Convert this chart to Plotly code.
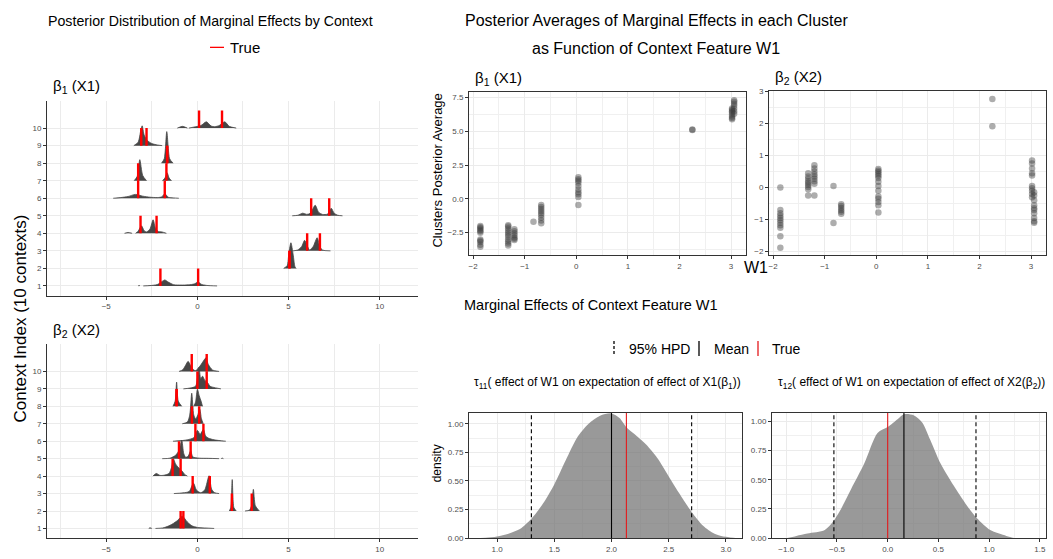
import plotly.graph_objects as go

W, H = 1053, 559
FONT = "Liberation Sans, Arial, Helvetica, sans-serif"

# ---------------- data ----------------
CONTEXTS = list(range(1, 11))

# ridge outlines per context: list of segments, each a list of (x, height) knots
B1_RIDGES = [
    [[(-3.25, 0), (-3.2, 0.03), (-3.15, 0)],
     [(-2.97, 0), (-2.6, 0.02), (-2.2, 0.08), (-1.95, 0.25), (-1.79, 0.34), (-1.6, 0.22), (-1.3, 0.07),
      (-0.9, 0.05), (-0.5, 0.06), (-0.15, 0.12), (0.04, 0.24), (0.2, 0.1), (0.5, 0.03), (1.08, 0)]],
    [[(4.73, 0), (4.92, 0.15), (5.02, 0.9), (5.13, 1.46), (5.25, 0.8), (5.35, 0.1), (5.42, 0)]],
    [[(5.24, 0), (5.5, 0.05), (5.72, 0.25), (5.88, 0.6), (6.02, 0.3), (6.15, 0.05), (6.35, 0.25),
      (6.57, 0.75), (6.7, 0.3), (6.85, 0.05), (7.3, 0)]],
    [[(-4.0, 0), (-3.8, 0.05), (-3.58, 0)],
     [(-3.39, 0), (-3.25, 0.12), (-3.07, 0.43), (-2.92, 0.15), (-2.79, 0.08), (-2.6, 0.25), (-2.43, 0.77),
      (-2.3, 0.3), (-2.15, 0.1), (-1.95, 0.08), (-1.7, 0)]],
    [[(5.2, 0), (5.5, 0.03), (5.78, 0.15), (6.0, 0.08), (6.2, 0.15), (6.46, 0.6), (6.65, 0.2), (6.85, 0.08),
      (7.15, 0.1), (7.34, 0.43), (7.5, 0.15), (7.7, 0.03), (7.96, 0)]],
    [[(-4.62, 0), (-4.2, 0.04), (-3.8, 0.1), (-3.4, 0.22), (-3.0, 0.12), (-2.6, 0.06), (-2.2, 0.04),
      (-1.95, 0.08), (-1.79, 0.26), (-1.6, 0.06), (-1.3, 0.02), (-1.02, 0)]],
    [[(-3.47, 0), (-3.3, 0.25), (-3.16, 1.2), (-3.0, 0.3), (-2.79, 0)],
     [(-1.92, 0), (-1.78, 0.15), (-1.66, 0.45), (-1.55, 0.15), (-1.42, 0)]],
    [[(-1.97, 0), (-1.82, 0.25), (-1.68, 1.8), (-1.52, 0.25), (-1.33, 0)]],
    [[(-3.49, 0), (-3.25, 0.2), (-3.1, 0.9), (-3.03, 1.13), (-2.92, 0.6), (-2.75, 0.3), (-2.5, 0.12),
      (-2.2, 0.04), (-1.93, 0)]],
    [[(-1.1, 0), (-0.82, 0.1), (-0.55, 0)],
     [(-0.47, 0), (-0.1, 0.08), (0.2, 0.15), (0.49, 0.36), (0.75, 0.12), (0.95, 0.08), (1.2, 0.15),
      (1.5, 0.36), (1.75, 0.1), (2.13, 0)]],
]
B1_TRUE = [[-2.03, 0.04], [5.05, 5.05], [6.02, 6.72], [-3.12, -2.24], [6.24, 7.23],
           [-3.25, -1.79], [-3.25, -1.7], [-1.66, -1.66], [-3.08, -2.79], [0.09, 1.35]]

B2_RIDGES = [
    [[(-2.67, 0), (-2.6, 0.04), (-2.5, 0)],
     [(-2.3, 0), (-1.9, 0.03), (-1.56, 0.15), (-1.3, 0.3), (-1.1, 0.45), (-0.83, 0.7), (-0.55, 0.37),
      (-0.3, 0.15), (0.0, 0.06), (0.4, 0.03), (0.92, 0)]],
    [[(1.75, 0), (1.83, 0.2), (1.91, 1.8), (2.0, 0.2), (2.13, 0)],
     [(2.61, 0), (2.85, 0.05), (2.97, 0.3), (3.07, 1.24), (3.18, 0.3), (3.4, 0)]],
    [[(-1.29, 0), (-0.8, 0.04), (-0.45, 0.12), (-0.22, 0.6), (-0.05, 0.2), (0.18, 0.05), (0.4, 0.2),
      (0.64, 1.02), (0.78, 0.25), (0.95, 0.05), (1.19, 0)]],
    [[(-2.44, 0), (-2.26, 0.15), (-2.05, 0.04), (-1.84, 0.05), (-1.56, 0.15), (-1.42, 0.5), (-1.32, 1.0),
      (-1.2, 0.7), (-1.1, 0.56), (-0.95, 0.4), (-0.83, 0.28), (-0.7, 0.1), (-0.55, 0)]],
    [[(-1.93, 0), (-1.5, 0.03), (-1.2, 0.19), (-1.0, 0.5), (-0.86, 1.07), (-0.75, 0.3), (-0.64, 0.08),
      (-0.5, 0.15), (-0.37, 0.45), (-0.25, 0.1), (0.1, 0.03), (0.6, 0.02), (1.19, 0)],
     [(1.3, 0), (1.36, 0.03), (1.43, 0)]],
    [[(-1.34, 0), (-0.74, 0.05), (-0.4, 0.12), (-0.2, 0.2), (0.0, 0.62), (0.15, 0.4), (0.33, 0.68),
      (0.45, 0.3), (0.6, 0.18), (0.92, 0.08), (1.56, 0)]],
    [[(-0.83, 0), (-0.55, 0.1), (-0.42, 0.5), (-0.31, 1.75), (-0.2, 0.5), (-0.09, 0.28), (0.02, 0.5),
      (0.13, 0.84), (0.22, 0.3), (0.32, 0)]],
    [[(-1.34, 0), (-1.22, 0.3), (-1.14, 1.39), (-1.05, 0.3), (-0.86, 0)],
     [(-0.2, 0), (-0.1, 0.25), (0.0, 0.98), (0.1, 0.6), (0.2, 0.3), (0.28, 0)]],
    [[(-0.77, 0), (-0.4, 0.05), (-0.1, 0.15), (0.0, 0.6), (0.09, 1.25), (0.18, 0.6), (0.28, 0.73),
      (0.4, 0.5), (0.55, 0.37), (0.7, 0.15), (0.83, 0.1), (1.29, 0)]],
    [[(-1.01, 0), (-0.8, 0.1), (-0.65, 0.35), (-0.51, 0.58), (-0.38, 0.35), (-0.2, 0.08), (-0.09, 0.05),
      (0.1, 0.25), (0.3, 0.55), (0.46, 0.77), (0.6, 0.4), (0.83, 0.08), (1.19, 0)]],
]
B2_TRUE = [[-0.92, -0.77], [1.89, 2.98], [-0.26, 0.68], [-1.36, -0.92], [-1.01, -0.37],
           [-0.11, 0.33], [-0.3, 0.1], [-1.14, -1.14], [0.0, 0.51], [-0.31, 0.51]]

# cluster posterior averages vs context feature W1
W1_CLUSTERS = [-1.86, -1.32, -1.2, -0.83, -0.68, 0.04, 2.25, 3.02, 3.06]
B1_CLUSTER_VALUES = [
    [-2.0, -2.1, -2.2, -2.3, -2.4, -2.5, -3.0, -3.1, -3.2, -3.4, -3.55],
    [-1.95, -2.05, -2.2, -2.35, -2.5, -2.65, -2.8, -3.0, -3.15, -3.3, -3.45],
    [-2.25, -2.4, -2.55, -2.7, -2.85, -2.95, -3.05],
    [-1.7],
    [-0.45, -0.6, -0.75, -0.9, -1.05, -1.2, -1.4, -1.6, -1.8],
    [1.6, 1.45, 1.35, 1.2, 0.95, 0.7, 0.5, 0.35, 0.15, -0.45],
    [5.1, 5.15],
    [5.9, 6.0, 6.1, 6.25, 6.4, 6.5, 6.6, 6.7],
    [6.3, 6.5, 6.7, 6.9, 7.05, 7.2, 7.3],
]
B2_CLUSTER_VALUES = [
    [0.0, -0.7, -0.8, -0.88, -0.95, -1.02, -1.1, -1.18, -1.26, -1.52, -1.88],
    [0.45, 0.35, 0.28, 0.2, 0.14, 0.08, 0.02, -0.05, -0.25],
    [0.7, 0.6, 0.5, 0.42, 0.35, 0.28, 0.2, 0.12, -0.25],
    [0.05, -1.11],
    [-0.52, -0.58, -0.64, -0.7, -0.76, -0.82],
    [0.58, 0.53, 0.48, 0.42, 0.36, 0.3, 0.18, 0.05, -0.1, -0.28, -0.35, -0.45, -0.55, -0.78],
    [2.77, 1.92],
    [0.85, 0.75, 0.6, 0.45, 0.38, 0.05, -0.02, -0.1, -0.2, -0.3],
    [-0.15, -0.25, -0.4, -0.55, -0.65, -0.7, -0.8, -0.95, -1.05, -1.1],
]

# posterior densities of tau
TAU11_X = [0.78, 0.9, 1.0, 1.1, 1.2, 1.3, 1.4, 1.5, 1.6, 1.7, 1.8, 1.9, 2.0, 2.07, 2.13, 2.2, 2.3, 2.4,
           2.5, 2.6, 2.7, 2.8, 2.9, 3.0, 3.1]
TAU11_D = [0.0, 0.004, 0.015, 0.04, 0.08, 0.17, 0.3, 0.47, 0.68, 0.88, 1.0, 1.07, 1.09, 1.05, 0.97, 0.91,
           0.82, 0.7, 0.54, 0.38, 0.23, 0.11, 0.04, 0.012, 0.0]
TAU11_HPD = [1.3, 2.7]
TAU11_MEAN = 2.0
TAU11_TRUE = 2.13

TAU12_X = [-1.0, -0.9, -0.79, -0.62, -0.54, -0.46, -0.36, -0.23, -0.1, 0.0, 0.1, 0.16, 0.26, 0.34, 0.42,
           0.52, 0.65, 0.78, 0.88, 1.01, 1.17, 1.26]
TAU12_D = [0.0, 0.02, 0.04, 0.07, 0.14, 0.25, 0.42, 0.64, 0.9, 0.95, 1.02, 1.06, 1.05, 0.99, 0.84, 0.64,
           0.45, 0.28, 0.17, 0.07, 0.02, 0.0]
TAU12_HPD = [-0.53, 0.87]
TAU12_MEAN = 0.16
TAU12_TRUE = 0.0


def px(v):
    return v / W


def py(v):
    return 1 - v / H


RIDGE_COL = "#474747"
fig = go.Figure()

# ---------------- ridgelines ----------------
for ridges, trues, xa, ya in [(B1_RIDGES, B1_TRUE, "x", "y"), (B2_RIDGES, B2_TRUE, "x2", "y2")]:
    for k in reversed(CONTEXTS):
        for seg in ridges[k - 1]:
            fig.add_trace(go.Scatter(
                x=[p[0] for p in seg], y=[k + p[1] for p in seg], mode="lines",
                line=dict(color=RIDGE_COL, width=0.8, shape="spline", smoothing=0.7),
                fill="toself", fillcolor=RIDGE_COL, xaxis=xa, yaxis=ya,
                hoverinfo="skip", showlegend=False))
    rx, ry = [], []
    for k in CONTEXTS:
        for v in trues[k - 1]:
            rx += [v, v, None]
            ry += [k, k + 1, None]
    fig.add_trace(go.Scatter(x=rx, y=ry, mode="lines", line=dict(color="#FF0000", width=2.4),
                             xaxis=xa, yaxis=ya, hoverinfo="skip", showlegend=False))

# ---------------- scatter ----------------
for vals, xa, ya in [(B1_CLUSTER_VALUES, "x3", "y3"), (B2_CLUSTER_VALUES, "x4", "y4")]:
    sx, sy = [], []
    for w, vs in zip(W1_CLUSTERS, vals):
        sx += [w] * len(vs)
        sy += vs
    fig.add_trace(go.Scatter(x=sx, y=sy, mode="markers",
                             marker=dict(size=6.5, color="rgba(60,60,60,0.42)", line=dict(width=0)),
                             xaxis=xa, yaxis=ya, hoverinfo="skip", showlegend=False))

# ---------------- tau densities ----------------
shapes = []
for dx, dd, hpd, mean, true, xa, ya in [
        (TAU11_X, TAU11_D, TAU11_HPD, TAU11_MEAN, TAU11_TRUE, "x5", "y5"),
        (TAU12_X, TAU12_D, TAU12_HPD, TAU12_MEAN, TAU12_TRUE, "x6", "y6")]:
    fig.add_trace(go.Scatter(x=dx, y=dd, mode="lines", fill="tozeroy",
                             fillcolor="rgba(110,110,110,0.7)",
                             line=dict(width=0, color="rgba(110,110,110,0.7)", shape="spline", smoothing=0.8),
                             xaxis=xa, yaxis=ya, hoverinfo="skip", showlegend=False))
    for v in hpd:
        shapes.append(dict(type="line", xref=xa, yref=ya + " domain", x0=v, x1=v, y0=0, y1=1,
                           line=dict(color="black", width=1.1, dash="4px,3px")))
    shapes.append(dict(type="line", xref=xa, yref=ya + " domain", x0=mean, x1=mean, y0=0, y1=1,
                       line=dict(color="black", width=1.1)))
    shapes.append(dict(type="line", xref=xa, yref=ya + " domain", x0=true, x1=true, y0=0, y1=1,
                       line=dict(color="#E41A1C", width=1.1)))

# legend keys
shapes.append(dict(type="line", xref="paper", yref="paper", x0=px(210), x1=px(224), y0=py(45), y1=py(45),
                   line=dict(color="#FF0000", width=1.3)))
shapes.append(dict(type="line", xref="paper", yref="paper", x0=px(614), x1=px(614), y0=py(343), y1=py(358),
                   line=dict(color="black", width=1.3, dash="3px,2px")))
shapes.append(dict(type="line", xref="paper", yref="paper", x0=px(699), x1=px(699), y0=py(343), y1=py(358),
                   line=dict(color="black", width=1.3)))
shapes.append(dict(type="line", xref="paper", yref="paper", x0=px(758), x1=px(758), y0=py(343), y1=py(358),
                   line=dict(color="#E41A1C", width=1.3)))

# ---------------- axes ----------------
TICKF = dict(family=FONT, size=8, color="#4D4D4D")
GRID = "#EBEBEB"


def ridge_axes(ydom):
    xa = dict(domain=[px(47), px(418)], range=[-8.25, 12.1], tickvals=[-5, 0, 5, 10],
              showgrid=True, gridcolor=GRID, gridwidth=1, zeroline=False,
              minor=dict(dtick=2.5, tick0=0, showgrid=True, gridcolor=GRID, gridwidth=0.8),
              showline=True, linecolor="#333333", linewidth=1, ticks="outside", ticklen=3,
              tickcolor="#333333", tickfont=TICKF, fixedrange=True)
    ya = dict(domain=ydom, range=[0.44, 11.57], tickvals=CONTEXTS, showgrid=True, gridcolor=GRID,
              gridwidth=1.2, zeroline=False, showline=True, linecolor="#333333", linewidth=1,
              ticks="outside", ticklen=3, tickcolor="#333333", tickfont=TICKF, fixedrange=True)
    return xa, ya


def boxed(dom, rng, dtick, mdtick, tickformat=None):
    d = dict(domain=dom, range=rng, dtick=dtick, tick0=0, showgrid=True, gridcolor=GRID, gridwidth=1.1,
             zeroline=False, minor=dict(dtick=mdtick, tick0=0, showgrid=True, gridcolor="#F0F0F0",
                                        gridwidth=0.6),
             showline=True, mirror=True, linecolor="#333333", linewidth=1, ticks="outside", ticklen=3,
             tickcolor="#333333", tickfont=TICKF, fixedrange=True)
    if tickformat:
        d["tickformat"] = tickformat
    return d


x1, y1 = ridge_axes([py(297), py(99)])
x2, y2 = ridge_axes([py(543), py(346)])

layout = dict(
    width=W, height=H, margin=dict(l=0, r=0, t=0, b=0), paper_bgcolor="white", plot_bgcolor="white",
    font=dict(family=FONT, color="black"), showlegend=False,
    xaxis=dict(x1, anchor="y"), yaxis=dict(y1, anchor="x"),
    xaxis2=dict(x2, anchor="y2"), yaxis2=dict(y2, anchor="x2"),
    xaxis3=dict(boxed([px(469), px(746)], [-2.08, 3.29], 1, 0.5), anchor="y3"),
    yaxis3=dict(boxed([py(256), py(90)], [-4.18, 7.94], 2.5, 1.25, ".1f"), anchor="x3"),
    xaxis4=dict(boxed([px(769), px(1046)], [-2.08, 3.29], 1, 0.5), anchor="y4"),
    yaxis4=dict(boxed([py(256), py(89)], [-2.12, 3.03], 1, 0.5), anchor="x4"),
    xaxis5=dict(boxed([px(469), px(742)], [0.755, 3.14], 0.5, 0.25, ".1f"), anchor="y5"),
    yaxis5=dict(boxed([py(543), py(416)], [0, 1.093], 0.25, 0.125, ".2f"), anchor="x5"),
    xaxis6=dict(boxed([px(772), px(1046)], [-1.14, 1.56], 0.5, 0.25, ".1f"), anchor="y6"),
    yaxis6=dict(boxed([py(543), py(416)], [0, 1.07], 0.25, 0.125, ".2f"), anchor="x6"),
    shapes=shapes,
)
fig.update_layout(**layout)


def ann(text, x, y, size, xanchor="center", angle=0, color="black"):
    fig.add_annotation(text=text, x=px(x), y=py(y), xref="paper", yref="paper", xanchor=xanchor,
                       yanchor="middle", showarrow=False, textangle=angle,
                       font=dict(family=FONT, size=size, color=color))


ann("Posterior Distribution of Marginal Effects by Context", 210, 18, 14.2)
ann("True", 228, 45, 15, "left")
ann("β<sub>1</sub> (X1)", 51, 85, 15, "left")
ann("β<sub>2</sub> (X2)", 51, 332, 15, "left")
ann("Context Index (10 contexts)", 20, 320, 17, angle=-90)
ann("Posterior Averages of Marginal Effects in each Cluster", 656, 18, 16)
ann("as Function of Context Feature W1", 656, 46, 16)
ann("β<sub>1</sub> (X1)", 473, 77, 15, "left")
ann("β<sub>2</sub> (X2)", 773, 76, 15, "left")
ann("Clusters Posterior Average", 438, 170, 13, angle=-90)
ann("W1", 756, 268, 16)
ann("Marginal Effects of Context Feature W1", 462, 306, 14.5, "left")
ann("95% HPD", 627, 351, 14, "left")
ann("Mean", 712, 351, 14, "left")
ann("True", 770, 351, 14, "left")
ann("τ<sub>11</sub>( effect of W1 on expectation of effect of X1(β<sub>1</sub>))", 607, 386, 12)
ann("τ<sub>12</sub>( effect of W1 on expectation of effect of X2(β<sub>2</sub>))", 911, 386, 12)
ann("density", 437, 467, 12, angle=-90)

fig.write_html("out.html")
